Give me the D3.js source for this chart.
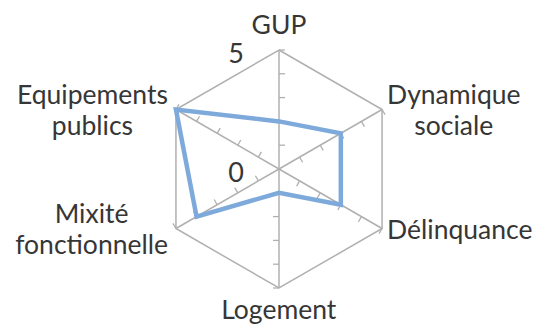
<!DOCTYPE html>
<html>
<head>
<meta charset="utf-8">
<script src="https://cdn.jsdelivr.net/npm/d3@7"></script>
<style>
  body { margin: 0; background: #fff; }
  svg text { font-family: Lato, "Open Sans", sans-serif; fill: #363636; }
</style>
</head>
<body>
<div id="chart"></div>
<script>
// axes, clockwise from the top
var categories = ["GUP", "Dynamique\nsociale", "Délinquance", "Logement", "Mixité\nfonctionnelle", "Equipements\npublics"];
var values = [2, 3, 3, 1, 4, 5];
var tick_values = [1, 2, 3, 4, 5];
var scale_labels = [0, 5];

var width = 538, height = 326;
var cx = 279, cy = 169;
var rmax = 119;

var svg = d3.select("#chart").append("svg")
	.attr("width", width)
	.attr("height", height);

var r = d3.scaleLinear().domain([0, 5]).range([0, rmax]);
var angle = d3.scaleLinear().domain([0, categories.length]).range([0, 2*Math.PI]);

function px(i, v){ return cx + r(v)*Math.sin(angle(i)); }
function py(i, v){ return cy - r(v)*Math.cos(angle(i)); }

var grid_col = "#b0b0b0";

// outer hexagon
var outer = categories.map(function(d, i){ return [px(i, 5), py(i, 5)]; });
svg.append("path")
	.attr("d", "M" + outer.join("L") + "Z")
	.attr("fill", "none")
	.attr("stroke", grid_col)
	.attr("stroke-width", 1.5);

// spokes + little ticks (on the clockwise side)
categories.forEach(function(c, i){
	svg.append("line")
		.attr("x1", cx).attr("y1", cy)
		.attr("x2", px(i, 5)).attr("y2", py(i, 5))
		.attr("stroke", grid_col)
		.attr("stroke-width", 1.5);
	var a = angle(i);
	var tx = Math.cos(a), ty = Math.sin(a);
	tick_values.forEach(function(t){
		svg.append("line")
			.attr("x1", px(i, t)).attr("y1", py(i, t))
			.attr("x2", px(i, t) + tx*6).attr("y2", py(i, t) + ty*6)
			.attr("stroke", grid_col)
			.attr("stroke-width", 1.3);
	});
});

// series
var line = d3.line()
	.x(function(d, i){ return px(i, d); })
	.y(function(d, i){ return py(i, d); })
	.curve(d3.curveLinearClosed);

svg.append("path")
	.datum(values)
	.attr("d", line)
	.attr("fill", "none")
	.attr("stroke", "#7eaadb")
	.attr("stroke-width", 4.5)
	.attr("stroke-linejoin", "miter");

// value labels 0 and 5, left of the vertical axis
svg.selectAll(".vlab")
	.data(scale_labels)
	.enter().append("text")
	.attr("class", "vlab")
	.attr("x", cx - 35)
	.attr("y", function(d){ return cy - r(d) + 13; })
	.attr("text-anchor", "end")
	.style("font-size", "27px")
	.text(function(d){ return d; });

// category labels
categories.forEach(function(c, i){
	var lines = c.split("\n");
	var vx = px(i, 5), vy = py(i, 5);
	var s = Math.sin(angle(i)), co = Math.cos(angle(i));
	var t = svg.append("text")
		.style("font-size", "26.5px")
		.attr("text-anchor", "middle");
	lines.forEach(function(l, k){
		t.append("tspan").attr("x", 0).attr("dy", k == 0 ? 0 : 31).text(l);
	});
	var b = t.node().getBBox();
	var dx, dy;
	if (s > 0.1) dx = vx + 5 - b.x;
	else if (s < -0.1) dx = vx - 8 - (b.x + b.width);
	else dx = vx - (b.x + b.width/2);
	// top / bottom labels placed by baseline, side ones centred on the vertex
	if (co > 0.9) dy = vy - 16;
	else if (co < -0.9) dy = vy + 31;
	else dy = vy - (b.y + b.height/2);
	t.attr("transform", "translate(" + dx + "," + dy + ")");
});
</script>
</body>
</html>
